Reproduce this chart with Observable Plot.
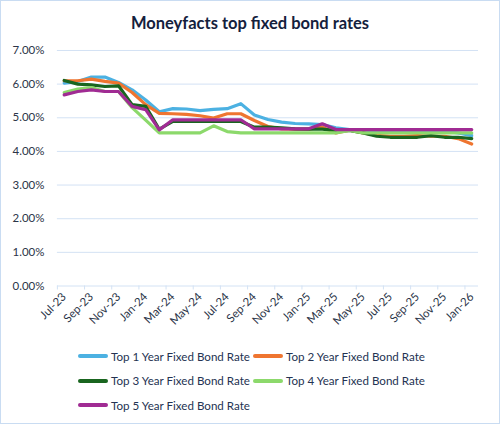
<!DOCTYPE html>
<html>
<head>
<meta charset="utf-8">
<script src="https://cdn.jsdelivr.net/npm/d3@7"></script>
<script src="https://cdn.jsdelivr.net/npm/@observablehq/plot@0.6"></script>
<style>
  body { margin: 0; background: #fff; font-family: Lato, "Noto Sans", sans-serif; }
  #wrap { position: relative; width: 500px; height: 424px; box-sizing: border-box; border: 1px solid #c9dcf2; background: #fff; overflow: hidden; }
  #title { position: absolute; top: 12px; left: 0; width: 100%; text-align: center; font-size: 16.5px; font-weight: 700; color: #14213d; }
  #chart { position: absolute; top: 37px; left: -1px; }
  #legend { position: absolute; top: 343px; left: 77px; width: 370px; font-size: 11.6px; color: #243352; }
  .item { display: inline-flex; align-items: center; width: 175px; height: 24.5px; white-space: nowrap; }
  .sw { width: 30px; height: 4px; border-radius: 2px; margin-right: 3px; flex: none; }
</style>
</head>
<body>
<div id="wrap">
  <div id="title">Moneyfacts top fixed bond rates</div>
  <div id="chart"></div>
  <div id="legend"></div>
</div>
<script>
// monthly, Jul-23 .. Jan-26 (rates in %)
const months = ["Jul-23","Aug-23","Sep-23","Oct-23","Nov-23","Dec-23","Jan-24","Feb-24","Mar-24","Apr-24",
  "May-24","Jun-24","Jul-24","Aug-24","Sep-24","Oct-24","Nov-24","Dec-24","Jan-25","Feb-25",
  "Mar-25","Apr-25","May-25","Jun-25","Jul-25","Aug-25","Sep-25","Oct-25","Nov-25","Dec-25","Jan-26"];

const seriesNames = ["Top 1 Year Fixed Bond Rate", "Top 2 Year Fixed Bond Rate", "Top 3 Year Fixed Bond Rate",
  "Top 4 Year Fixed Bond Rate", "Top 5 Year Fixed Bond Rate"];
const seriesColors = ["#4cb1e2", "#ef7530", "#19651f", "#8cd96b", "#a02b93"];

const oneYear = [6.03, 6.08, 6.21, 6.21, 6.05, 5.83, 5.53, 5.18, 5.27, 5.26, 5.21, 5.25, 5.27, 5.42, 5.08, 4.95,
  4.87, 4.83, 4.82, 4.80, 4.70, 4.65, 4.62, 4.60, 4.60, 4.60, 4.60, 4.60, 4.60, 4.55, 4.47];
const twoYear = [6.10, 6.10, 6.15, 6.08, 6.03, 5.75, 5.39, 5.13, 5.12, 5.10, 5.06, 4.99, 5.12, 5.12, 4.92, 4.74,
  4.67, 4.66, 4.66, 4.72, 4.55, 4.63, 4.55, 4.48, 4.45, 4.45, 4.47, 4.45, 4.45, 4.38, 4.22];
const threeYear = [6.11, 6.00, 5.98, 5.93, 5.95, 5.39, 5.34, 4.66, 4.89, 4.89, 4.89, 4.89, 4.89, 4.89, 4.72, 4.72,
  4.70, 4.67, 4.66, 4.66, 4.62, 4.62, 4.55, 4.45, 4.42, 4.42, 4.42, 4.47, 4.42, 4.42, 4.38];
const fourYear = [5.75, 5.85, 5.90, 5.78, 5.78, 5.30, 4.93, 4.55, 4.55, 4.55, 4.55, 4.76, 4.59, 4.55, 4.55, 4.55,
  4.55, 4.55, 4.55, 4.55, 4.55, 4.62, 4.55, 4.55, 4.55, 4.55, 4.55, 4.55, 4.55, 4.55, 4.55];
const fiveYear = [5.68, 5.78, 5.83, 5.78, 5.78, 5.34, 5.24, 4.64, 4.94, 4.94, 4.94, 4.94, 4.94, 4.94, 4.67, 4.67,
  4.67, 4.67, 4.67, 4.82, 4.65, 4.65, 4.65, 4.65, 4.65, 4.65, 4.65, 4.65, 4.65, 4.65, 4.65];

const yTicks = [0, 1, 2, 3, 4, 5, 6, 7];

const allSeries = [oneYear, twoYear, threeYear, fourYear, fiveYear];
const rows = allSeries.flatMap((vals, k) => vals.map((v, i) => ({series: seriesNames[k], i, v})));

const labelIdx = d3.range(0, months.length, 2);
const tickPos = labelIdx.map(i => i - 0.5);

const grid = "#d3e2f4";
const textCol = "#2b3548";

let chart = Plot.plot({
  width: 500,
  height: 300,
  marginTop: 12,
  marginBottom: 52,
  marginLeft: 57,
  marginRight: 21,
  style: { fontFamily: "Lato, 'Noto Sans', sans-serif", fontSize: "11.5px", color: textCol, background: "transparent" },
  x: { type: "linear", domain: [-0.5, months.length - 0.5] },
  y: { domain: [0, 7] },
  color: { domain: seriesNames, range: seriesColors },
  marks: [
    Plot.gridY(yTicks, { stroke: grid, strokeOpacity: 1, strokeWidth: 1 }),
    Plot.axisY(yTicks, { tickSize: 0, tickPadding: 13, tickFormat: d => d.toFixed(2) + "%", label: null }),
    Plot.axisX(tickPos, { tickSize: 4, stroke: grid, strokeOpacity: 1, tickFormat: () => "", label: null }),
    Plot.axisX(labelIdx, { tickSize: 0, tickPadding: 9, tickRotate: -45, tickFormat: i => months[i], label: null }),
    Plot.line(rows, { x: "i", y: "v", z: "series", stroke: "series", strokeWidth: 3.2, strokeLinejoin: "round" })
  ]
});

d3.select('#chart').append(() => chart);

const legend = d3.select('#legend');
seriesNames.forEach((name, k) => {
  const it = legend.append('div').attr('class', 'item');
  it.append('div').attr('class', 'sw').style('background', seriesColors[k]);
  it.append('span').text(name);
});
</script>
</body>
</html>
